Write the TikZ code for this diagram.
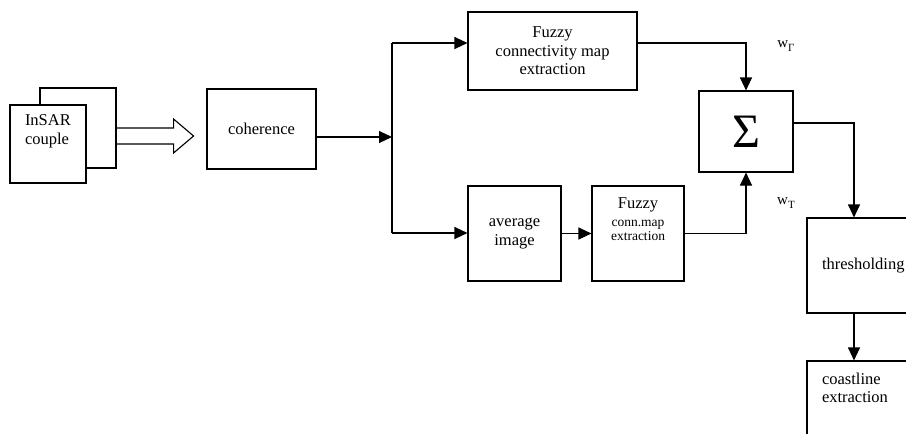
\documentclass[tikz,border=0pt]{standalone}
\usepackage{fontspec}
\setmainfont{Liberation Serif}
\usetikzlibrary{arrows.meta}
\newcommand{\wsub}[1]{w\raisebox{-3.5pt}{\fontsize{11}{11}\selectfont #1}}
\begin{document}
\begin{tikzpicture}[x=1pt,y=-1pt,line width=1.1pt,
  box/.style={draw,fill=white,inner sep=0pt,align=center,font=\fontsize{16.5}{18.5}\selectfont},
  txt/.style={inner sep=0pt,font=\fontsize{16.5}{18.5}\selectfont},
  arr/.style={-{Triangle[length=13pt,width=12pt]}},
  wlab/.style={inner sep=0pt,font=\fontsize{15}{16}\selectfont}]
\useasboundingbox (0,0) rectangle (906,434);
\node[box,minimum width=76pt,minimum height=80pt] (insarback) at (78,128) {};
\node[box,minimum width=76pt,minimum height=78pt] (insar) at (48,144) {};
\node[txt,anchor=north west,align=left] (insartext) at ([xshift=15pt,yshift=-10pt]insar.north west) {InSAR\\couple};
\draw (insarback.east) -- ++(57,0) -- ++(0,-9) -- ++(20,17) -- ++(-20,17) -- ++(0,-9) -- ++(-57,0);
\node[box,minimum width=109pt,minimum height=80pt] (coh) at (261.5,129) {coherence};
\node[box,minimum width=169pt,minimum height=78pt] (fuzzyA) at (552.5,51) {Fuzzy\\connectivity map\\extraction};
\node[box,minimum width=93pt,minimum height=95pt] (avg) at (514.5,233.5) {average\\image};
\node[box,minimum width=92pt,minimum height=95pt] (fuzzyB) at (638,233.5) {};
\node[txt,anchor=north,align=center] (fuzzyBtext) at ([yshift=-12pt]fuzzyB.north) {Fuzzy\\[-1pt]{\fontsize{13.5}{15}\selectfont conn.map}\\[-4pt]{\fontsize{13.5}{15}\selectfont extraction}};
\node[box,minimum width=94pt,minimum height=81pt,font=\fontsize{48}{48}\selectfont] (sum) at (746,131.5) {Σ};
\node[box,minimum height=95pt,text width=120pt,inner xsep=15pt,align=left] (thr) at (882,265.5) {thresholding};
\node[box,minimum width=150pt,minimum height=100pt] (coast) at (882,411) {};
\node[txt,anchor=north west,align=left] (coasttext) at ([xshift=15pt,yshift=-12pt]coast.north west) {coastline\\extraction};
\node[wlab] (wgamma) at (786,46) {\wsub{Γ}};
\node[wlab] (wt) at (786,203) {\wsub{T}};
\coordinate (split) at (392,137);
\coordinate (upper) at (392,43);
\coordinate (lower) at (392,233);
\draw[arr] (coh.east |- split) -- (split);
\draw (upper) -- (lower);
\draw[arr] (upper) -- (upper -| fuzzyA.west);
\draw[arr] (lower) -- (lower -| avg.west);
\draw[arr] (avg) -- (fuzzyB);
\draw[arr] (fuzzyA.east |- upper) -| (sum.north);
\draw[arr] (fuzzyB.east) -| (sum.south);
\draw[arr] ([yshift=8.5pt]sum.east) -| ([xshift=-28pt]thr.north);
\draw[arr] ([xshift=-28pt]thr.south) -- ([xshift=-28pt]coast.north);
\end{tikzpicture}
\end{document}
